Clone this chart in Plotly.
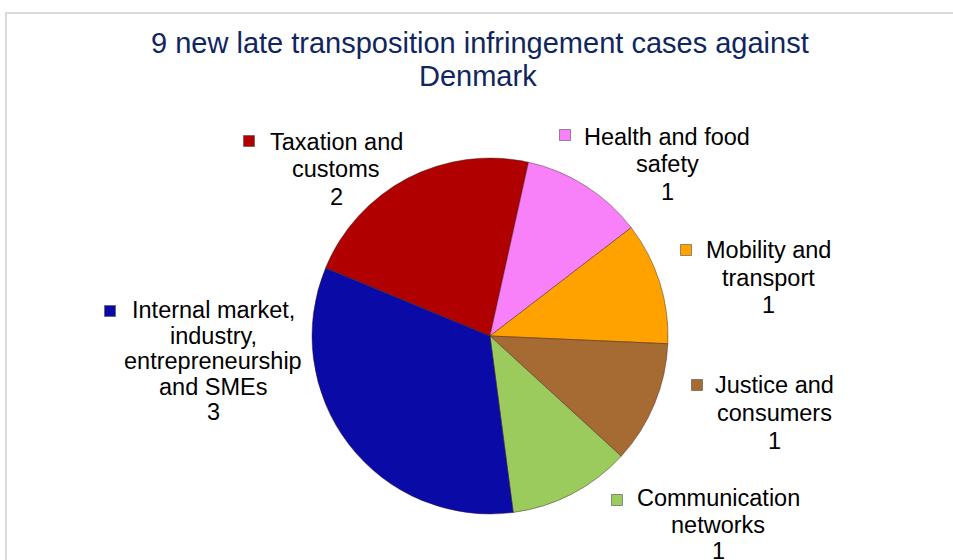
import plotly.graph_objects as go

# ---- data ----
categories = ["Taxation and customs", "Health and food safety", "Mobility and transport",
              "Justice and consumers", "Communication networks",
              "Internal market, industry, entrepreneurship and SMEs"]
values = [2, 1, 1, 1, 1, 3]
label_lines = [["Taxation and", "customs"],
               ["Health and food", "safety"],
               ["Mobility and", "transport"],
               ["Justice and", "consumers"],
               ["Communication", "networks"],
               ["Internal market,", "industry,", "entrepreneurship", "and SMEs"]]
colors = ["#B00000", "#F880F8", "#FFA200", "#A66A33", "#9BCB5C", "#0A0AA6"]
title_lines = ["9 new late transposition infringement cases against", "Denmark"]

W, H = 953, 560
def px(x): return x / W
def py(y): return 1 - y / H

# pie geometry (pixels)
cx, cy, r = 490, 336, 178

fig = go.Figure()
fig.add_trace(go.Pie(
    labels=categories, values=values, sort=False, direction="clockwise",
    rotation=292.5, textinfo="none", hoverinfo="label+value",
    marker=dict(colors=colors, line=dict(color="rgba(60,30,30,0.45)", width=1)),
    domain=dict(x=[px(cx - r), px(cx + r)], y=[py(cy + r), py(cy - r)]),
    showlegend=False,
))

font_family = "Liberation Sans, Arial, sans-serif"
annotations = []
shapes = []

# title
title_pos = [(479.5, 43), (477.5, 76)]
for t, (x, y) in zip(title_lines, title_pos):
    annotations.append(dict(text=t, x=px(x), y=py(y), xref="paper", yref="paper",
                            xanchor="center", yanchor="middle", showarrow=False,
                            font=dict(family=font_family, size=29, color="#10265E")))

# data label layout: (text center x, first line y, line spacing, key x, key y)
label_layout = [
    (336, 142, 27.5, 249, 141),
    (667, 137, 27.5, 565, 135),
    (768, 250, 27.5, 686, 250),
    (774, 385, 28.0, 697, 385),
    (718, 498, 26.5, 617, 500),
    (213, 310, 25.5, 110, 311),
]
for lines, v, col, (tx, ty, dy, kx, ky) in zip(label_lines, values, colors, label_layout):
    all_lines = lines + [str(v)]
    for i, ln in enumerate(all_lines):
        annotations.append(dict(text=ln, x=px(tx), y=py(ty + i * dy), xref="paper", yref="paper",
                                xanchor="center", yanchor="middle", showarrow=False,
                                font=dict(family=font_family, size=23.5, color="#000000")))
    s = 5.5
    shapes.append(dict(type="rect", xref="paper", yref="paper",
                       x0=px(kx - s), x1=px(kx + s), y0=py(ky + s), y1=py(ky - s),
                       fillcolor=col, line=dict(color="rgba(80,80,80,0.6)", width=1)))

# chart-area border (top and left edges visible)
shapes.append(dict(type="path", xref="paper", yref="paper",
                   path=f"M {px(6)},{py(H + 5)} L {px(6)},{py(13)} L {px(W + 5)},{py(13)}",
                   line=dict(color="#D9D9D9", width=2)))

fig.update_layout(
    width=W, height=H, margin=dict(l=0, r=0, t=0, b=0),
    paper_bgcolor="white", plot_bgcolor="white",
    annotations=annotations, shapes=shapes,
)

fig.write_html("out.html", config={"displayModeBar": False},
               post_script="document.body.style.margin='0';document.body.style.overflow='hidden';")
